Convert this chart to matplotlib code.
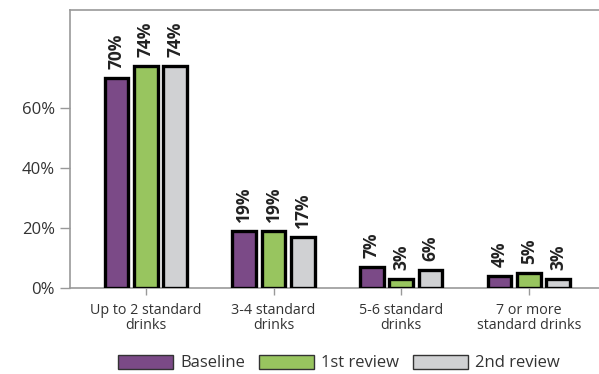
import matplotlib.pyplot as plt
import numpy as np

plt.rcParams['font.family'] = ['Open Sans', 'DejaVu Sans']

# Data
categories = ['Up to 2 standard\ndrinks', '3-4 standard\ndrinks',
              '5-6 standard\ndrinks', '7 or more\nstandard drinks']
series = ['Baseline', '1st review', '2nd review']
baseline = [70, 19, 7, 4]
review1 = [74, 19, 3, 5]
review2 = [74, 17, 6, 3]
values = [baseline, review1, review2]
colors = ['#7B4A87', '#98C55F', '#D0D1D3']

fig = plt.figure(figsize=(5.99, 3.74), dpi=100)
ax = fig.add_axes([70 / 599, 86 / 374, 529 / 599, 278 / 374])

x = np.arange(len(categories))
step = 0.23
width = 0.185
for i, (vals, col) in enumerate(zip(values, colors)):
    pos = x + (i - 1) * step
    ax.bar(pos, vals, width=width, color=col, edgecolor='black', linewidth=2.4,
           zorder=3)
    for p, v in zip(pos, vals):
        ax.annotate(f'{v}%', (p, v), xytext=(0, 6.5), textcoords='offset points',
                    rotation=90, ha='center', va='bottom', fontsize=12.5,
                    fontweight='bold', color='#222222')

ax.set_xlim(-0.595, 3.55)
ax.set_ylim(0, 92.7)
ax.set_yticks([0, 20, 40, 60])
ax.set_yticklabels(['0%', '20%', '40%', '60%'])
ax.set_xticks(x)
ax.set_xticklabels(categories, fontsize=10.3, color='#333333', linespacing=1.0)

ax.tick_params(axis='y', length=7, width=1, color='#999999', labelsize=12,
               labelcolor='#333333', pad=4)
ax.tick_params(axis='x', length=5, width=1, color='#999999', pad=6)

for s in ['left', 'bottom', 'top']:
    ax.spines[s].set_color('#999999')
    ax.spines[s].set_linewidth(1.2)
ax.spines['right'].set_visible(False)

handles = [plt.Rectangle((0, 0), 1, 1, facecolor=c, edgecolor='#333333',
                         linewidth=1) for c in colors]
fig.legend(handles, series, loc='center', bbox_to_anchor=(0.566, 9 / 374 + 0.005),
           ncol=3, frameon=False, fontsize=12, handlelength=3.3,
           handleheight=0.9, handletextpad=0.45, columnspacing=0.8,
           labelcolor='#333333')

fig.savefig('out.png', dpi=100)
